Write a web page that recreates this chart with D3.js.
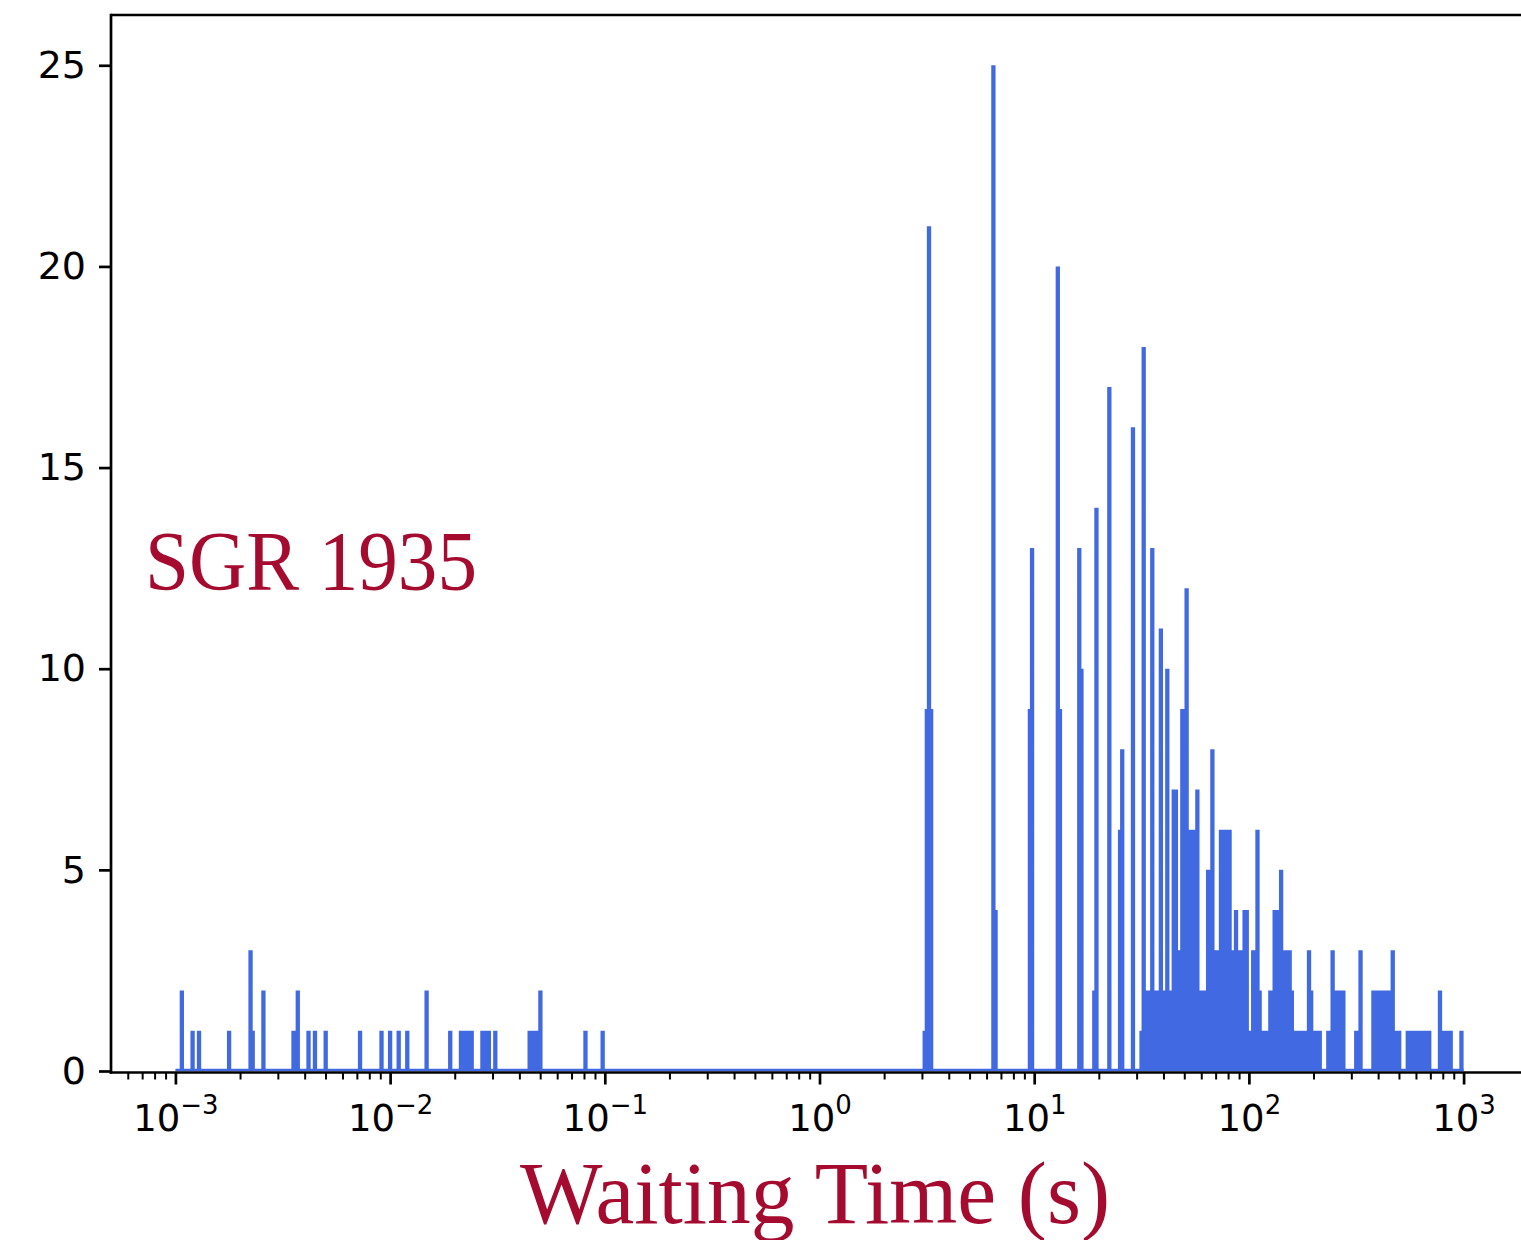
<!DOCTYPE html>
<html>
<head>
<meta charset="utf-8">
<script src="https://cdn.jsdelivr.net/npm/d3@7"></script>
<style>
  body { margin: 0; background: #fff; }
  svg { display: block; }
</style>
</head>
<body>
<div class="container"></div>
<script>
const WIDTH = 1521;
const HEIGHT = 1240;

// histogram layout: log-spaced bins from 1e-3 s to 1e3 s
const LOG_MIN = -3;
const LOG_MAX = 3;
const BINS_PER_DECADE = 100;

// runs of neighbouring bins sharing the same count (bin index, inclusive)
const runFirst = [2, 7, 10, 24, 34, 36, 40, 54, 56, 61, 64, 69, 85, 95, 99, 103, 107, 116, 127, 132, 142, 148, 164, 169, 190, 198,
  348, 349, 350, 352, 380, 382, 397, 398, 410, 412, 420, 422, 427, 428, 434, 439, 440, 445, 449, 450, 452, 454, 456, 458, 460, 461,
  463, 464, 467, 468, 470, 472, 475, 477, 480, 482, 484, 486, 492, 493, 495, 497, 500, 501, 503, 505, 506, 509, 511, 514, 516, 520,
  521, 527, 529, 530, 536, 538, 540, 549, 551, 557, 566, 568, 573, 588, 590, 598];
const runLast = [3, 8, 11, 25, 35, 36, 41, 55, 57, 62, 65, 70, 86, 96, 100, 104, 108, 117, 128, 138, 146, 149, 168, 170, 191, 199,
  348, 349, 351, 352, 381, 382, 397, 399, 411, 412, 421, 422, 427, 429, 435, 439, 441, 446, 449, 451, 453, 455, 457, 459, 460, 462,
  463, 466, 467, 469, 471, 474, 476, 479, 481, 483, 485, 491, 492, 494, 496, 499, 500, 502, 504, 505, 508, 510, 513, 515, 519, 520,
  526, 528, 529, 533, 537, 539, 544, 550, 552, 565, 567, 570, 584, 589, 594, 599];
const runCount = [2, 1, 1, 1, 3, 1, 2, 1, 2, 1, 1, 1, 1, 1, 1, 1, 1, 2, 1, 1, 1, 1, 1, 2, 1, 1,
  1, 9, 21, 9, 25, 4, 9, 13, 20, 9, 13, 10, 2, 14, 17, 6, 8, 16, 1, 18, 2, 13, 2, 11, 2, 10,
  2, 7, 3, 9, 12, 6, 7, 2, 5, 8, 3, 6, 3, 4, 3, 4, 1, 3, 6, 2, 1, 2, 4, 5, 3, 2,
  1, 3, 2, 1, 1, 3, 2, 1, 3, 2, 3, 1, 1, 2, 1, 1];

const yTicks = [0, 5, 10, 15, 20, 25];
const xMajorExp = [-3, -2, -1, 0, 1, 2, 3];
const xMinorMult = [2, 3, 4, 5, 6, 7, 8, 9];

const BAR_COLOR = '#4169e1';
const TITLE_COLOR = '#a50b2e';
const TICK_FONT = '"DejaVu Sans", sans-serif';

var drawChart = function() {
    const nBins = (LOG_MAX - LOG_MIN) * BINS_PER_DECADE;
    const edges = d3.range(nBins + 1).map((i) => Math.pow(10, LOG_MIN + i / BINS_PER_DECADE));
    const counts = new Array(nBins).fill(0);
    runFirst.forEach((first, i) => {
        for (let k = first; k <= runLast[i]; k++) counts[k] = runCount[i];
    });
    // one point per bin edge; the last one closes the final bin
    const steps = edges.map((e, k) => ({ x: e, n: k < nBins ? counts[k] : counts[nBins - 1] }));

    const left = 111, top = 15, bottom = 1071;
    const pad = 0.05 * (LOG_MAX - LOG_MIN);
    const x = d3.scaleLog()
        .domain([Math.pow(10, LOG_MIN - pad), Math.pow(10, LOG_MAX + pad)])
        .range([left, 1528]);
    const y = d3.scaleLinear()
        .domain([0, 25 * 1.05])
        .range([bottom, top]);

    const svg = d3.select('.container').append('svg')
        .attr('width', WIDTH)
        .attr('height', HEIGHT);

    // bars, drawn as one stepped area so neighbouring bins do not leave seams
    const area = d3.area()
        .curve(d3.curveStepAfter)
        .x((d) => x(d.x))
        .y0(y(0))
        .y1((d) => y(d.n));
    svg.append('path')
        .attr('d', area(steps))
        .attr('fill', BAR_COLOR);

    // empty bins leave a thin line along zero
    svg.append('line')
        .attr('x1', x(edges[0])).attr('x2', x(edges[nBins]))
        .attr('y1', y(0) - 1).attr('y2', y(0) - 1)
        .attr('stroke', BAR_COLOR).attr('stroke-width', 2.5);

    // y axis
    const yAxis = d3.axisLeft(y).tickValues(yTicks).tickSize(12).tickPadding(13);
    const gy = svg.append('g')
        .attr('transform', `translate(${left},0)`)
        .call(yAxis);
    gy.select('.domain').remove();
    gy.selectAll('.tick line').attr('stroke', '#000').attr('stroke-width', 2.7);
    gy.selectAll('.tick text')
        .attr('fill', '#000')
        .style('font-family', TICK_FONT)
        .style('font-size', '38px');

    // x axis: minor ticks
    const minorVals = [];
    d3.range(LOG_MIN - 1, LOG_MAX + 1).forEach((e) => {
        xMinorMult.forEach((m) => {
            const v = m * Math.pow(10, e);
            if (v >= x.domain()[0] && v <= x.domain()[1]) minorVals.push(v);
        });
    });
    const gxMinor = svg.append('g')
        .attr('transform', `translate(0,${bottom + 1.5})`)
        .call(d3.axisBottom(x).tickValues(minorVals).tickSize(7).tickFormat(''));
    gxMinor.select('.domain').remove();
    gxMinor.selectAll('.tick line').attr('stroke', '#000').attr('stroke-width', 2);

    // x axis: major ticks with 10^n labels
    const gx = svg.append('g')
        .attr('transform', `translate(0,${bottom + 1.5})`)
        .call(d3.axisBottom(x).tickValues(xMajorExp.map((e) => Math.pow(10, e)))
            .tickSize(12).tickFormat(''));
    gx.select('.domain').remove();
    gx.selectAll('.tick line').attr('stroke', '#000').attr('stroke-width', 2.7);
    gx.selectAll('.tick').each(function(d, i) {
        const e = xMajorExp[i];
        const t = d3.select(this).append('text')
            .attr('y', 58)
            .attr('text-anchor', 'middle')
            .attr('fill', '#000')
            .style('font-family', TICK_FONT)
            .style('font-size', '37px');
        t.append('tspan').text('10');
        t.append('tspan')
            .attr('dy', -17)
            .style('font-size', '26px')
            .text(e < 0 ? '\u2212' + (-e) : String(e));
    });

    // spines (right one falls outside the picture)
    svg.append('line')
        .attr('x1', left).attr('x2', WIDTH)
        .attr('y1', top).attr('y2', top)
        .attr('stroke', '#000').attr('stroke-width', 2.7);
    svg.append('line')
        .attr('x1', left - 1.35).attr('x2', WIDTH)
        .attr('y1', bottom + 1.5).attr('y2', bottom + 1.5)
        .attr('stroke', '#000').attr('stroke-width', 2.7);
    svg.append('line')
        .attr('x1', left).attr('x2', left)
        .attr('y1', top - 1.35).attr('y2', bottom + 2.85)
        .attr('stroke', '#000').attr('stroke-width', 2.7);

    // annotations
    svg.append('text')
        .attr('x', 145).attr('y', 590)
        .attr('textLength', 332)
        .attr('lengthAdjust', 'spacingAndGlyphs')
        .attr('fill', TITLE_COLOR)
        .style('font-family', '"Liberation Serif", "DejaVu Serif", serif')
        .style('font-size', '84px')
        .text('SGR 1935');

    svg.append('text')
        .attr('x', 815).attr('y', 1223)
        .attr('text-anchor', 'middle')
        .attr('textLength', 590)
        .attr('lengthAdjust', 'spacingAndGlyphs')
        .attr('fill', TITLE_COLOR)
        .style('font-family', '"Liberation Serif", "DejaVu Serif", serif')
        .style('font-size', '88px')
        .text('Waiting Time (s)');
};
window.onload = drawChart;
</script>
</body>
</html>
